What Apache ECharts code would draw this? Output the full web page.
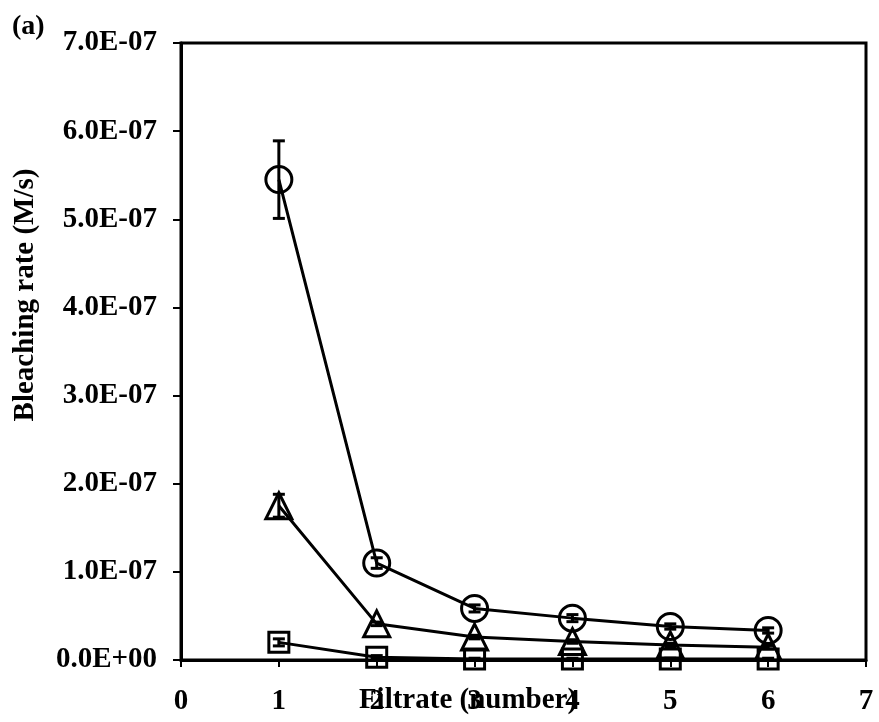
<!DOCTYPE html>
<html><head><meta charset="utf-8">
<script src="https://cdn.jsdelivr.net/npm/echarts@6/dist/echarts.min.js"></script>
<style>html,body{margin:0;padding:0;background:#fff}#c{width:879px;height:722px}</style>
</head><body><div id="c"></div>
<script>
const filtrate = [1, 2, 3, 4, 5, 6];
const circleVals = [5.45e-7, 1.10e-7, 0.585e-7, 0.475e-7, 0.38e-7, 0.335e-7];
const circleErr  = [0.44e-7, 0.06e-7, 0.04e-7, 0.04e-7, 0.03e-7, 0.03e-7];
const triVals    = [1.75e-7, 0.41e-7, 0.26e-7, 0.21e-7, 0.17e-7, 0.145e-7];
const triErr     = [0.13e-7, 0.02e-7, 0.02e-7, 0.02e-7, 0.02e-7, 0.02e-7];
const sqVals     = [0.20e-7, 0.03e-7, 0.01e-7, 0.01e-7, 0.01e-7, 0.01e-7];
const sqErr      = [0.04e-7, 0.02e-7, 0.01e-7, 0.01e-7, 0.01e-7, 0.01e-7];
const xTicks = [0, 1, 2, 3, 4, 5, 6, 7];

const FONT = '"Liberation Serif", "Times New Roman", serif';
const chart = echarts.init(document.getElementById('c'), null, {renderer: 'canvas'});

function pts(vals){ return filtrate.map((x,i)=>[x, vals[i]]); }
function errData(vals, errs){ return filtrate.map((x,i)=>[x, vals[i]-errs[i], vals[i]+errs[i]]); }

function errSeries(vals, errs){
  return {
    type: 'custom', z: 5,
    data: errData(vals, errs),
    renderItem: function(params, api){
      const x = api.value(0);
      const lo = api.coord([x, api.value(1)]);
      const hi = api.coord([x, api.value(2)]);
      const w = 6;
      const st = {stroke: '#000', lineWidth: 3};
      return {type: 'group', children: [
        {type:'line', shape:{x1:lo[0], y1:lo[1], x2:hi[0], y2:hi[1]}, style: st},
        {type:'line', shape:{x1:lo[0]-w, y1:lo[1], x2:lo[0]+w, y2:lo[1]}, style: st},
        {type:'line', shape:{x1:hi[0]-w, y1:hi[1], x2:hi[0]+w, y2:hi[1]}, style: st}
      ]};
    }
  };
}

function lineSeries(vals, symbol, size){
  return {
    type: 'line', data: pts(vals), symbol: symbol, symbolSize: size, z: 4,
    lineStyle: {color: '#000', width: 3},
    itemStyle: {color: 'rgba(0,0,0,0)', borderColor: '#000', borderWidth: 3},
    emphasis: {disabled: true}
  };
}

chart.setOption({
  animation: false,
  backgroundColor: '#fff',
  grid: {left: 181, right: 13, top: 43, bottom: 62, show: true, borderColor: '#000', borderWidth: 3,
         containLabel: false, outerBoundsMode: 'none'},
  xAxis: {
    type: 'value', min: 0, max: 7, interval: 1,
    axisLine: {show: true, lineStyle: {color: '#000', width: 3}},
    axisTick: {show: true, inside: false, length: 7, lineStyle: {color: '#000', width: 2}},
    splitLine: {show: false},
    axisLabel: {color: '#000', fontFamily: FONT, fontWeight: 'bold', fontSize: 29, margin: 27,
      formatter: v => xTicks.includes(v) ? String(v) : ''}
  },
  yAxis: {
    type: 'value', min: 0, max: 7e-7, interval: 1e-7,
    axisLine: {show: true, lineStyle: {color: '#000', width: 3}},
    axisTick: {show: true, inside: false, length: 8, lineStyle: {color: '#000', width: 2}},
    splitLine: {show: false},
    axisLabel: {color: '#000', fontFamily: FONT, fontWeight: 'bold', fontSize: 29, margin: 24,
      formatter: function(v){
        const s = Number(v).toExponential(1);
        const m = s.split('e');
        const e = parseInt(m[1], 10);
        const sign = e < 0 ? '-' : '+';
        const ab = Math.abs(e);
        return m[0] + 'E' + sign + (ab < 10 ? '0' + ab : String(ab));
      }}
  },
  graphic: [
    {type: 'text', left: 12, top: 13, style: {text: '(a)', font: 'bold 28px ' + FONT, fill: '#000'}},
    {type: 'text', x: 468, y: 701, style: {text: 'Filtrate (number)', font: 'bold 29px ' + FONT, fill: '#000', align: 'center', verticalAlign: 'middle'}},
    {type: 'text', x: 26, y: 295, rotation: Math.PI / 2, style: {text: 'Bleaching rate (M/s)', font: 'bold 29px ' + FONT, fill: '#000', align: 'center', verticalAlign: 'middle'}}
  ],
  series: [
    lineSeries(circleVals, 'circle', 26),
    lineSeries(triVals, 'triangle', 26),
    lineSeries(sqVals, 'rect', 20),
    errSeries(circleVals, circleErr),
    errSeries(triVals, triErr),
    errSeries(sqVals, sqErr)
  ]
});
</script>
</body></html>
